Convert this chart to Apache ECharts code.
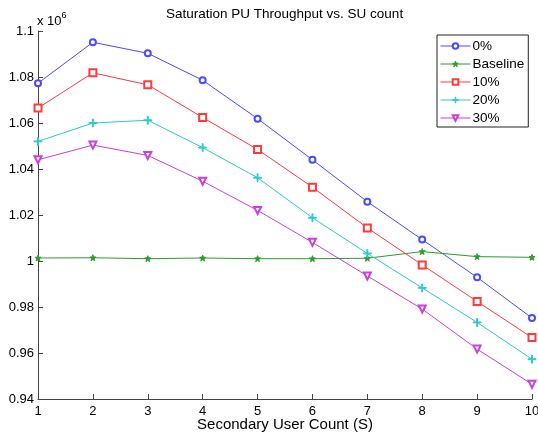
<!DOCTYPE html>
<html>
<head>
<meta charset="utf-8">
<script src="https://cdn.jsdelivr.net/npm/echarts@6/dist/echarts.min.js"></script>
<style>
  html, body { margin: 0; padding: 0; background: #fff; }
  #chart { width: 538px; height: 436px; }
</style>
</head>
<body>
<div id="chart"></div>
<script>
// 横轴：次级用户数
var suCount = [1, 2, 3, 4, 5, 6, 7, 8, 9, 10]
// 纵轴数值，单位 x 10^6
var pct0 = [1.0773, 1.0951, 1.0903, 1.0786, 1.0619, 1.0440, 1.0258, 1.0093, 0.9929, 0.9752]
var baseline = [1.0013, 1.0014, 1.0010, 1.0013, 1.0010, 1.0010, 1.0012, 1.0041, 1.0019, 1.0016]
var pct10 = [1.0665, 1.0818, 1.0766, 1.0624, 1.0485, 1.0321, 1.0144, 0.9983, 0.9824, 0.9667]
var pct20 = [1.0520, 1.0600, 1.0612, 1.0493, 1.0362, 1.0188, 1.0033, 0.9883, 0.9733, 0.9573]
var pct30 = [1.0440, 1.0504, 1.0459, 1.0347, 1.0220, 1.0081, 0.9935, 0.9791, 0.9617, 0.9464]
var seriesNames = ['0%', 'Baseline', '10%', '20%', '30%']
var yTicks = [0.94, 0.96, 0.98, 1, 1.02, 1.04, 1.06, 1.08, 1.1]

var FONT = 'Liberation Sans, Arial, sans-serif'
var plusPath = 'path://M4.45,0h1.1v4.45h4.45v1.1h-4.45v4.45h-1.1v-4.45h-4.45v-1.1h4.45z'
var starPath = 'path://M5,0L6.2,3.4L10,3.6L7,5.9L8.1,9.5L5,7.4L1.9,9.5L3,5.9L0,3.6L3.8,3.4Z'

function pairs (ys) {
  return ys.map(function (y, i) { return [suCount[i], y] })
}

function lineSeries (name, ys, color, symbol, size, rotate) {
  return {
    name: name,
    type: 'line',
    data: pairs(ys),
    symbol: symbol,
    symbolSize: size,
    symbolRotate: rotate || 0,
    showAllSymbol: true,
    lineStyle: { color: color, width: 1 },
    itemStyle: { color: color, borderColor: color, borderWidth: 1 },
    emphasis: { disabled: true },
    animation: false
  }
}

var myCharts = echarts.init(document.getElementById('chart'))
var options = {
  backgroundColor: '#fff',
  textStyle: { fontFamily: FONT },
  title: {
    text: 'Saturation PU Throughput vs. SU count',
    left: 166,
    top: 7,
    padding: 0,
    textStyle: { fontFamily: FONT, fontSize: 13.5, fontWeight: 'normal', color: '#000' }
  },
  legend: {
    data: seriesNames,
    orient: 'vertical',
    left: 437,
    top: 35,
    itemWidth: 30,
    itemHeight: 7,
    itemGap: 4,
    padding: [4, 4, 2, 3],
    borderColor: '#222',
    borderWidth: 1,
    backgroundColor: '#fff',
    lineStyle: { width: 1 },
    itemStyle: { borderWidth: 1 },
    textStyle: { fontFamily: FONT, fontSize: 13.5, color: '#000', padding: [0, 0, 0, -3] }
  },
  grid: { left: 38, right: 6, top: 31, bottom: 37, containLabel: false, outerBoundsMode: 'none' },
  graphic: [{
    type: 'text',
    left: 37,
    top: 11,
    style: {
      text: '{a|x 10}{b|6}',
      rich: {
        a: { fontFamily: FONT, fontSize: 13, fill: '#000', verticalAlign: 'bottom' },
        b: { fontFamily: FONT, fontSize: 9, fill: '#000', verticalAlign: 'top', padding: [0, 0, 8, 0] }
      }
    }
  }],
  xAxis: {
    type: 'value',
    min: 1,
    max: 10,
    interval: 1,
    name: 'Secondary User Count (S)',
    nameLocation: 'middle',
    nameGap: 18,
    nameMoveOverlap: false,
    nameTextStyle: { fontFamily: FONT, fontSize: 15, color: '#000' },
    axisLine: { lineStyle: { color: '#444', width: 1 } },
    axisTick: { inside: true, length: 5, lineStyle: { color: '#444' } },
    axisLabel: { fontFamily: FONT, fontSize: 13, color: '#000', margin: 6 },
    splitLine: { show: false }
  },
  yAxis: {
    type: 'value',
    min: yTicks[0],
    max: yTicks[yTicks.length - 1],
    interval: 0.02,
    axisLine: { show: true, lineStyle: { color: '#444', width: 1 } },
    axisTick: { show: true, inside: true, length: 5, lineStyle: { color: '#444' } },
    axisLabel: {
      fontFamily: FONT, fontSize: 13, color: '#000', margin: 4,
      formatter: function (v) { return String(+v.toFixed(2)) }
    },
    splitLine: { show: false }
  },
  series: [
    lineSeries('0%', pct0, '#4a4aff', 'emptyCircle', 6),
    lineSeries('Baseline', baseline, '#2f9a2f', starPath, 6),
    lineSeries('10%', pct10, '#ff3a3a', 'emptyRect', 7),
    lineSeries('20%', pct20, '#2ccaca', plusPath, 8),
    lineSeries('30%', pct30, '#cc3fd8', 'emptyTriangle', 7, 180)
  ]
}
myCharts.setOption(options)
</script>
</body>
</html>
